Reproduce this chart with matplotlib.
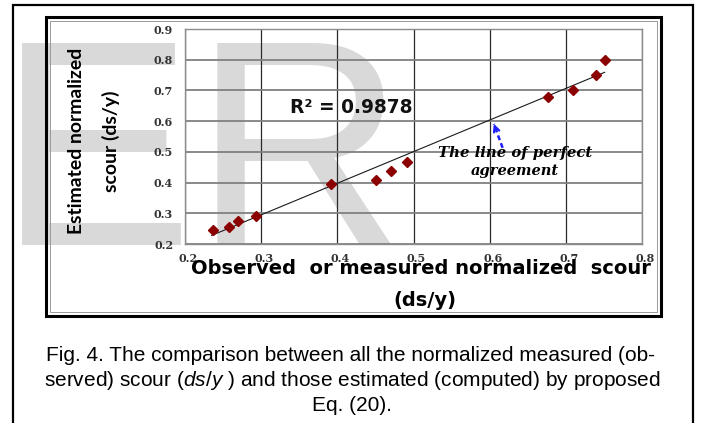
import numpy as np
import matplotlib
matplotlib.use("Agg")
import matplotlib.pyplot as plt
from matplotlib import font_manager
from matplotlib.patches import Rectangle
from matplotlib.transforms import ScaledTranslation

# data
observed  = [0.237, 0.258, 0.270, 0.293, 0.392, 0.451, 0.471, 0.492,
             0.677, 0.710, 0.740, 0.752]
estimated = [0.246, 0.254, 0.274, 0.291, 0.394, 0.408, 0.438, 0.466,
             0.677, 0.701, 0.750, 0.799]
trend_x = [0.235, 0.751]
trend_y = [0.228, 0.759]
r2_text = "R\u00b2 = 0.9878"
x_ticks = [0.2, 0.3, 0.4, 0.5, 0.6, 0.7, 0.8]
y_ticks = [0.2, 0.3, 0.4, 0.5, 0.6, 0.7, 0.8, 0.9]
arrow_x = [0.617, 0.6055]
arrow_y = [0.513, 0.591]

W, H = 704, 423
plt.rcParams["mathtext.fontset"] = "custom"
plt.rcParams["mathtext.rm"] = "Liberation Sans"
plt.rcParams["mathtext.it"] = "Liberation Sans:italic"

installed = {f.name for f in font_manager.fontManager.ttflist}
NARROW = "Liberation Sans Narrow" if "Liberation Sans Narrow" in installed else "Lato"


def fx(px):
    return px / W


def fy(py):
    return 1 - py / H


fig = plt.figure(figsize=(W / 100, H / 100), dpi=100, facecolor="white")
renderer = fig.canvas.get_renderer()


def fit(t, target_px, vertical=False):
    """scale a text's font size so its long side spans target_px"""
    bb = t.get_window_extent(renderer)
    size = bb.height if vertical else bb.width
    t.set_fontsize(t.get_fontsize() * target_px / size)
    return t


# watermark behind everything
fig.text(fx(-2), fy(245), "ER", family="Liberation Sans", fontsize=211,
         color="#d9d9d9", ha="left", va="baseline", zorder=-5)

# frames
fig.add_artist(Rectangle((fx(13), fy(430)), fx(693) - fx(13), fy(5) - fy(430),
                         transform=fig.transFigure, fill=False, ec="black", lw=1.6))
fig.add_artist(Rectangle((fx(46), fy(316)), fx(661) - fx(46), fy(17) - fy(316),
                         transform=fig.transFigure, fill=False, ec="black", lw=2.2))
fig.add_artist(Rectangle((fx(50), fy(312)), fx(657) - fx(50), fy(21) - fy(312),
                         transform=fig.transFigure, fill=False, ec="#9a9a9a", lw=0.7))

ax = fig.add_axes([fx(185), fy(244), fx(642) - fx(185), fy(29) - fy(244)])
ax.patch.set_alpha(0)
ax.set_xlim(0.2, 0.8)
ax.set_ylim(0.2, 0.9)
ax.set_xticks(x_ticks)
ax.set_yticks(y_ticks)
ax.set_xticklabels([f"{v:.1f}" for v in x_ticks])
ax.set_yticklabels([f"{v:.1f}" for v in y_ticks])
ax.tick_params(length=0, labelsize=8, labelcolor="#333333")
ax.tick_params(axis="y", pad=8.5)
ax.tick_params(axis="x", pad=6.5)
for lab in ax.get_xticklabels() + ax.get_yticklabels():
    lab.set_family("DejaVu Serif")
    lab.set_fontweight("bold")
for lab in ax.get_xticklabels():
    lab.set_transform(lab.get_transform() + ScaledTranslation(3 / 100, 0, fig.dpi_scale_trans))
for s in ax.spines.values():
    s.set_color("#8c8c8c")
    s.set_linewidth(1.0)
ax.xaxis.grid(True, color="#2a2a2a", lw=0.9)
ax.yaxis.grid(True, color="#808080", lw=1.3)
ax.set_axisbelow(True)

ax.plot(trend_x, trend_y, color="#1a1a1a", lw=0.8, zorder=3)
ax.plot(observed, estimated, "D", color="#8b0000", ms=5.5, mec="#8b0000", zorder=4)

fit(ax.text(0.338, 0.643, r2_text, family="DejaVu Sans", fontweight="bold",
            fontsize=13, ha="left", va="center", color="#111111"), 122)
fit(ax.text(0.633, 0.497, "The line of perfect", family="DejaVu Serif",
            fontweight="bold", style="italic", fontsize=10.5, ha="center",
            va="center"), 154)
ax.text(0.633, 0.437, "agreement", family="DejaVu Serif",
        fontweight="bold", style="italic", fontsize=10.5, ha="center", va="center")
# dashed shaft, solid head
ax.plot(arrow_x, arrow_y, color="#1f1fff", lw=1.8, ls=(0, (2, 1.3)), zorder=5)
ax.annotate("", xy=(arrow_x[1], arrow_y[1]),
            xytext=(arrow_x[1] + 0.2 * (arrow_x[0] - arrow_x[1]),
                    arrow_y[1] + 0.2 * (arrow_y[0] - arrow_y[1])),
            arrowprops=dict(arrowstyle="->", color="#1f1fff", lw=1.6,
                            mutation_scale=10, shrinkA=0, shrinkB=0), zorder=6)

# axis titles
yl1 = fit(fig.text(fx(76), fy(141), "Estimated normalized", family=NARROW,
                   fontweight="bold", fontsize=14, rotation=90, ha="center",
                   va="center"), 188, vertical=True)
fig.text(fx(111), fy(141), "scour (ds/y)", family=NARROW, fontweight="bold",
         fontsize=yl1.get_fontsize(), rotation=90, ha="center", va="center")
xl1 = fit(fig.text(fx(421), fy(268), "Observed  or measured normalized  scour",
                   family="DejaVu Sans", fontweight="bold", fontsize=13,
                   ha="center", va="center"), 458)
fig.text(fx(425), fy(300), "(ds/y)", family="DejaVu Sans", fontweight="bold",
         fontsize=xl1.get_fontsize(), ha="center", va="center")

# caption
cap_kw = dict(family="Liberation Sans", fontsize=14, ha="center", va="center")
c1 = fit(fig.text(fx(351), fy(355),
                  "Fig. 4. The comparison between all the normalized measured (ob-",
                  **cap_kw), 612)
cap_kw["fontsize"] = c1.get_fontsize()
fig.text(fx(352), fy(380),
         r"served) scour ($\mathit{ds/y}$ ) and those estimated (computed) by proposed",
         **cap_kw)
fig.text(fx(352), fy(405), "Eq. (20).", **cap_kw)

fig.savefig("out.png", dpi=100, facecolor="white")
